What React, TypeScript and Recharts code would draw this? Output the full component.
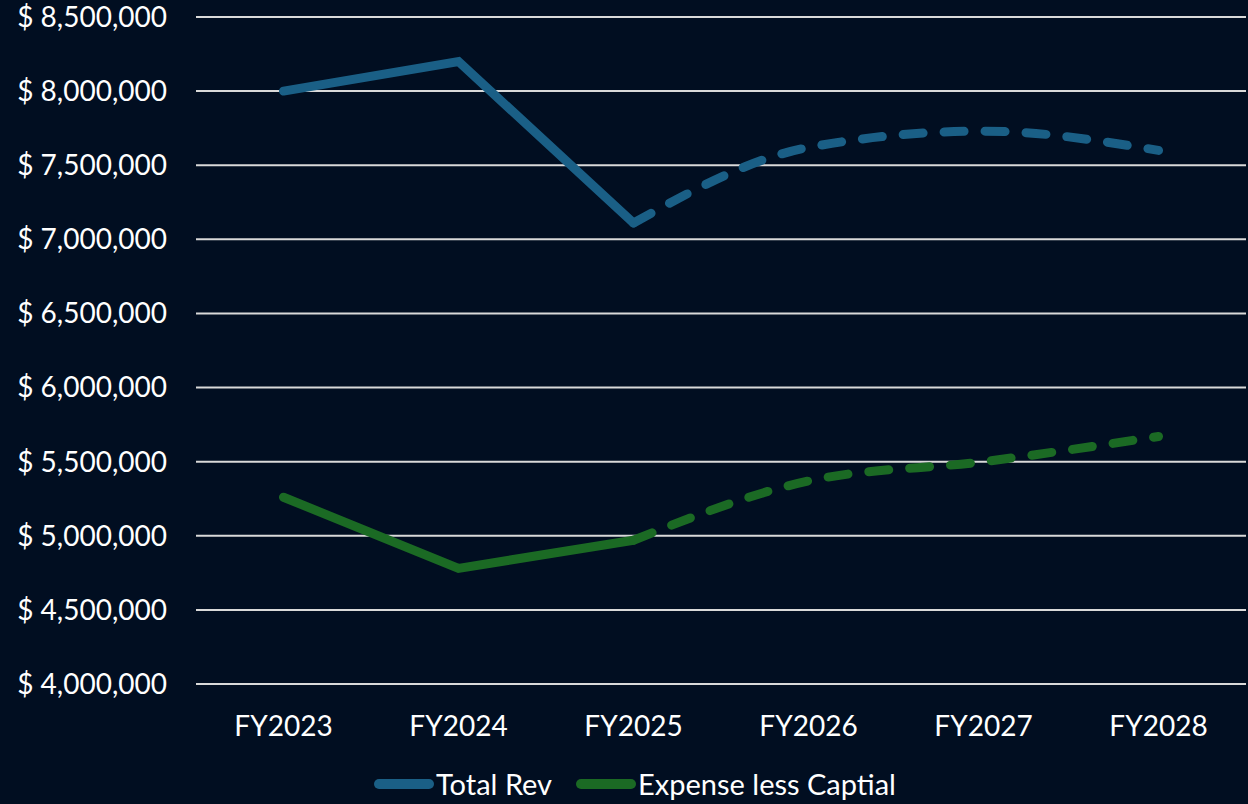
import React from "react";
import { LineChart, Line, XAxis, YAxis, CartesianGrid, Legend } from "recharts";

const categories = ["FY2023", "FY2024", "FY2025", "FY2026", "FY2027", "FY2028"];
const totalRevActual = [8000000, 8200000, 7110000, null, null, null];
const totalRevProjected = [null, null, 7110000, 7620000, 7730000, 7600000];
const expenseActual = [5260000, 4780000, 4970000, null, null, null];
const expenseProjected = [null, null, 4970000, 5370000, 5500000, 5670000];
const yTicks = [4000000, 4500000, 5000000, 5500000, 6000000, 6500000, 7000000, 7500000, 8000000, 8500000];
const seriesNames = ["Total Rev", "Expense less Captial"];
const seriesColors = ["#1A5F86", "#1B6A24"];

const data = categories.map((c, i) => ({
  name: c,
  revA: totalRevActual[i],
  revP: totalRevProjected[i],
  expA: expenseActual[i],
  expP: expenseProjected[i],
}));

const BG = "#010E21";
const FONT = "Lato, 'Open Sans', sans-serif";

const fmt = (v: number) => "$ " + v.toLocaleString("en-US");

const renderLegend = () => (
  <div
    style={{
      display: "flex",
      justifyContent: "center",
      alignItems: "center",
      fontFamily: FONT,
      fontSize: 29,
      color: "#FFFFFF",
      paddingTop: 12,
      paddingLeft: 24,
      gap: 24,
    }}
  >
    {seriesNames.map((n, i) => (
      <div key={n} style={{ display: "flex", alignItems: "center" }}>
        <div
          style={{
            width: 60,
            height: 10,
            borderRadius: 5,
            background: seriesColors[i],
            marginRight: 2,
          }}
        />
        <span>{n}</span>
      </div>
    ))}
  </div>
);

export default function App() {
  return (
    <div style={{ position: "fixed", left: 0, top: 0, width: 1248, height: 804, background: BG }}>
      <LineChart
        width={1248}
        height={804}
        data={data}
        margin={{ top: 17, right: 2, bottom: 0, left: 0 }}
      >
        <CartesianGrid vertical={false} stroke="#D9D9D9" strokeWidth={2} />
        <XAxis
          dataKey="name"
          axisLine={false}
          tickLine={false}
          height={70}
          tickMargin={26}
          padding={{ left: 87.5, right: 87.5 }}
          tick={{ fill: "#FFFFFF", fontSize: 28, fontFamily: FONT }}
        />
        <YAxis
          width={196}
          domain={[4000000, 8500000]}
          ticks={yTicks}
          tickFormatter={fmt}
          axisLine={false}
          tickLine={false}
          tickMargin={23}
          tick={{ fill: "#FFFFFF", fontSize: 28, fontFamily: FONT }}
        />
        <Legend verticalAlign="bottom" height={50} content={renderLegend} />
        <Line
          dataKey="revA"
          type="linear"
          stroke={seriesColors[0]}
          strokeWidth={9}
          strokeLinecap="round"
          dot={false}
          activeDot={false}
          isAnimationActive={false}
        />
        <Line
          dataKey="revP"
          type="monotone"
          stroke={seriesColors[0]}
          strokeWidth={9}
          strokeLinecap="round"
          strokeDasharray="20 21"
          dot={false}
          activeDot={false}
          isAnimationActive={false}
        />
        <Line
          dataKey="expA"
          type="linear"
          stroke={seriesColors[1]}
          strokeWidth={9}
          strokeLinecap="round"
          dot={false}
          activeDot={false}
          isAnimationActive={false}
        />
        <Line
          dataKey="expP"
          type="monotone"
          stroke={seriesColors[1]}
          strokeWidth={9}
          strokeLinecap="round"
          strokeDasharray="20 21"
          dot={false}
          activeDot={false}
          isAnimationActive={false}
        />
      </LineChart>
    </div>
  );
}
